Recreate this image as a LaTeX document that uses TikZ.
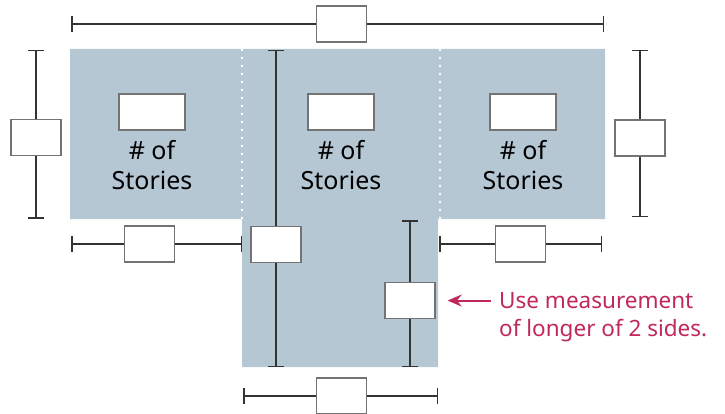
\documentclass[tikz,border=0pt]{standalone}
\usepackage{fontspec}
\setmainfont{Noto Sans}
\usetikzlibrary{arrows.meta,positioning}
\definecolor{roofblue}{HTML}{B5C7D3}
\definecolor{notered}{HTML}{C0285C}
\definecolor{dimgray}{HTML}{333333}
\tikzset{
  dimline/.style={draw=dimgray,line width=1.5pt,{Bar[width=16pt,line width=1.5pt]}-{Bar[width=16pt,line width=1.5pt]}},
  valbox/.style={draw=black!55,fill=white,line width=1.3pt,minimum width=50pt,minimum height=36pt,inner sep=0pt},
  storybox/.style={valbox,minimum width=66pt},
  storytext/.style={align=center,inner sep=0pt,font=\fontsize{25}{30}\selectfont},
  note/.style={align=left,inner sep=0pt,text=notered,font=\fontsize{22.5}{28}\selectfont},
  seam/.style={white,line width=2.6pt,line cap=round,dash pattern=on 0pt off 8pt}
}
\begin{document}
\begin{tikzpicture}[x=1pt,y=-1pt]
                \useasboundingbox (0,0) rectangle (725,414);

                \fill[roofblue] (70,49) -- (605,49) -- (605,219) -- (438,219) -- (438,367)
                    -- (242,367) -- (242,219) -- (70,219) -- cycle;
                \draw[seam] (242,50) -- (242,220);
                \draw[seam] (440,50) -- (440,220);

                \coordinate (topL) at (71,24);
                \coordinate (topR) at (604,24);
                \coordinate (leftT) at (36,49.7);
                \coordinate (leftB) at (36,218.5);
                \coordinate (rightT) at (640,49.7);
                \coordinate (rightB) at (640,217);
                \coordinate (midT) at (276,49.7);
                \coordinate (midB) at (276,367);
                \coordinate (innT) at (410,220);
                \coordinate (innB) at (410,367);
                \coordinate (wingLL) at (71,244);
                \coordinate (wingLR) at (242,244);
                \coordinate (wingRL) at (439,244);
                \coordinate (wingRR) at (602,244);
                \coordinate (botL) at (243,396);
                \coordinate (botR) at (438,396);

                \draw[dimline] (topL) -- node[valbox,pos=.508] (topbox) {} (topR);
                \draw[dimline] (leftT) -- node[valbox,pos=.52] (leftbox) {} (leftB);
                \draw[dimline] (rightT) -- node[valbox,pos=.528] (rightbox) {} (rightB);
                \draw[dimline] (midT) -- node[valbox,pos=.615] (midbox) {} (midB);
                \draw[dimline] (innT) -- node[valbox,pos=.548] (innbox) {} (innB);
                \draw[dimline] (wingLL) -- node[valbox,pos=.46] (wingLbox) {} (wingLR);
                \draw[dimline] (wingRL) -- node[valbox,pos=.5] (wingRbox) {} (wingRR);
                \draw[dimline] (botL) -- node[valbox,pos=.505] (botbox) {} (botR);

                \node[storybox] (storyL) at (152,112) {};
                \node[storybox] (storyM) at (341,112) {};
                \node[storybox] (storyR) at (523,112) {};
                \node[storytext,below=10pt of storyL] (textL) {\# of\\Stories};
                \node[storytext,below=10pt of storyM] (textM) {\# of\\Stories};
                \node[storytext,below=10pt of storyR] (textR) {\# of\\Stories};

                \node[note,anchor=north west] (note) at (499,292.5) {Use measurement\\of longer of 2 sides.};
                \draw[notered,line width=2pt,-{Stealth[length=14pt,width=12pt]},shorten <=8pt,shorten >=12pt]
                    (innbox.east -| note.west) -- (innbox.east);

            \end{tikzpicture}
\end{document}
